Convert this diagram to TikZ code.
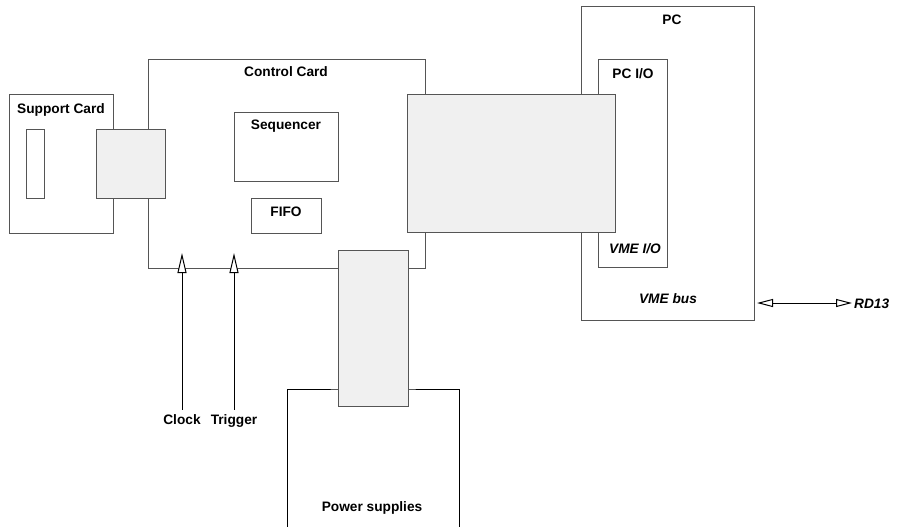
\documentclass[tikz,border=0pt]{standalone}
\usepackage{fontspec}
\setmainfont{Liberation Sans}
\usetikzlibrary{arrows.meta,fit}
\definecolor{edgecol}{HTML}{555555}
\definecolor{conncol}{HTML}{F0F0F0}
\begin{document}
\begin{tikzpicture}[x=1pt,y=-1pt,
  box/.style={draw=edgecol,line width=1pt,inner sep=0pt},
  connbox/.style={box,fill=conncol},
  lbl/.style={font=\fontsize{13.7}{16}\selectfont\bfseries,inner sep=0pt,anchor=base},
  ilbl/.style={lbl,font=\fontsize{13.7}{16}\selectfont\bfseries\itshape},
  sig/.style={draw=black,line width=1pt,-{Triangle[length=20pt,width=9pt,fill=white]}},
  bus/.style={draw=black,line width=1pt,{Triangle[length=16pt,width=8pt,fill=white]}-{Triangle[length=16pt,width=8pt,fill=white]}}]
\useasboundingbox (0,0) rectangle (913,527);

% outer boxes
\node[box,fit={(148,60) (425,268)}] (ctrl) {};
\node[box,fit={(581,7) (754,320)}] (pc) {};
\node[box,fit={(598,60) (667,267)}] (pcio) {};
\node[box,fit={(9,94) (113,233)}] (supp) {};
\node[box,fit={(26,129) (44,198)}] (suppslot) {};
\node[box,fit={(234,112) (338,181)}] (seq) {};
\node[box,fit={(251,198) (321,233)}] (fifo) {};

% power supplies (open at the bottom)
\coordinate (psbl) at (287,535);
\coordinate (psbr) at (459,535);
\draw[draw=black,line width=1pt] (psbl) |- (373,389) coordinate (pstop) -| (psbr);

% connectors
\node[connbox,fit={(96,129) (165,198)}] (suppconn) {};
\node[connbox,fit={(407,94) (615,232)}] (pcconn) {};
\node[connbox,fit={(338,250) (408,406)}] (psconn) {};

% labels
\node[lbl] (tsupp) at (61,113) {Support Card};
\node[lbl] (tctrl) at (286,77) {Control Card};
\node[lbl] (tseq) at (286,129) {Sequencer};
\node[lbl] (tfifo) at (286,216) {FIFO};
\node[lbl] (tpc) at (672,25) {PC};
\node[lbl] (tpcio) at (633,78) {PC I/O};
\node[ilbl] (tvmeio) at (635,253) {VME I/O};
\node[ilbl] (tvmebus) at (668,303) {VME bus};
\node[lbl] (tps) at (372,511) {Power supplies};
\node[lbl] (clock) at (182,424) {Clock};
\node[lbl] (trigger) at (234,424) {Trigger};
\node[ilbl,anchor=base west] (rd) at (854,308) {RD13};

% signal arrows
\coordinate (clocktip) at (182,253);
\coordinate (trigtip) at (234,253);
\draw[sig,shorten <=4pt] (clock.north) -- (clocktip);
\draw[sig,shorten <=4pt] (trigger.north) -- (trigtip);

% bus arrow
\coordinate (busl) at (757,303);
\coordinate (busr) at (852,303);
\draw[bus] (busl) -- (busr);
\end{tikzpicture}
\end{document}
